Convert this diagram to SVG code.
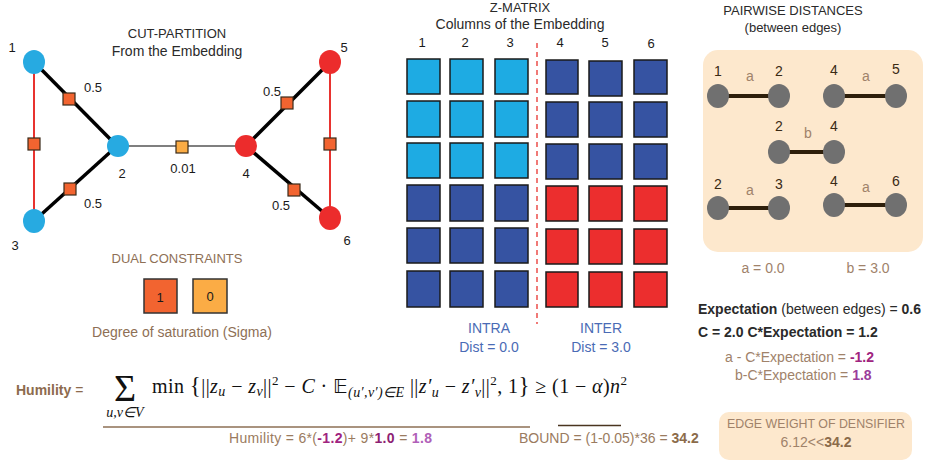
<svg xmlns="http://www.w3.org/2000/svg" width="931" height="462" viewBox="0 0 931 462">
<defs>
<style>
text{font-family:"Liberation Sans",Arial,sans-serif;}
.t{font-size:13px;fill:#2a2a2a;}
.t14{font-size:14px;fill:#2a2a2a;}
.num{font-size:13px;fill:#1a1a1a;}
.br{fill:#8e6f55;}
.bl{fill:#4a6bb5;font-size:14px;}
.lt{fill:#a0826a;font-size:14px;}
.pn{font-size:14px;fill:#3a2a14;}
.b{font-weight:bold;}
.m{font-family:"Liberation Serif","Times New Roman",serif;font-size:20px;fill:#111;}
.i{font-style:italic;}
.sq{stroke:#3a2a1a;stroke-width:1.2;}
.o1{fill:#f26430;}
.o2{fill:#fbac45;}
.blue{fill:#27aae1;}
.red{fill:#ec2c2c;}
.zc{fill:#1eabe3;stroke:#1a1a1a;stroke-width:1.5;}
.zd{fill:#3653a2;stroke:#1a1a1a;stroke-width:1.5;}
.zr{fill:#ec2e2e;stroke:#1a1a1a;stroke-width:1.5;}
.gn{fill:#707070;}
.pe{stroke:#2e1f0b;stroke-width:4;}
.peach{fill:#fde8cd;}
</style>
</defs>

<!-- CUT-PARTITION -->
<g id="cut-title">
<text class="t" x="177" y="38" text-anchor="middle">CUT-PARTITION</text>
<text class="t14" x="177" y="56" text-anchor="middle">From the Embedding</text>
</g>
<g id="connectors">
<line x1="34" y1="62" x2="117" y2="146" stroke="#000" stroke-width="3.5"/>
<line x1="34" y1="221" x2="117" y2="146" stroke="#000" stroke-width="3.5"/>
<line x1="34" y1="62" x2="34" y2="221" stroke="#e8332f" stroke-width="2"/>
<line x1="117" y1="146" x2="246" y2="146" stroke="#000" stroke-width="1.2"/>
<line x1="246" y1="146" x2="330" y2="62" stroke="#000" stroke-width="3.5"/>
<line x1="246" y1="146" x2="330" y2="218" stroke="#000" stroke-width="3.5"/>
<line x1="330" y1="62" x2="330" y2="218" stroke="#e8332f" stroke-width="2"/>
</g>
<g id="constraints">
<rect class="sq o1" x="63" y="93" width="12" height="12"/>
<rect class="sq o1" x="64" y="183" width="12" height="12"/>
<rect class="sq o1" x="28" y="138" width="12" height="12"/>
<rect class="sq o2" x="176" y="141" width="12" height="12"/>
<rect class="sq o1" x="281" y="97" width="12" height="12"/>
<rect class="sq o1" x="288" y="184" width="12" height="12"/>
<rect class="sq o1" x="324" y="138" width="12" height="12"/>
</g>
<g id="node1"><ellipse class="blue" cx="34" cy="62" rx="11" ry="12"/><text class="num" x="12" y="52" text-anchor="middle">1</text></g>
<g id="node2"><ellipse class="blue" cx="118" cy="146" rx="11" ry="11"/><text class="num" x="122" y="178" text-anchor="middle">2</text></g>
<g id="node3"><ellipse class="blue" cx="34" cy="221" rx="11" ry="12"/><text class="num" x="15" y="250" text-anchor="middle">3</text></g>
<g id="node4"><ellipse class="red" cx="246" cy="146" rx="11" ry="11"/><text class="num" x="246" y="178" text-anchor="middle">4</text></g>
<g id="node5"><ellipse class="red" cx="330" cy="62" rx="11" ry="12"/><text class="num" x="344" y="52" text-anchor="middle">5</text></g>
<g id="node6"><ellipse class="red" cx="330" cy="218" rx="11" ry="12"/><text class="num" x="347" y="245" text-anchor="middle">6</text></g>
<g id="weights">
<text class="num" x="93" y="92" text-anchor="middle">0.5</text>
<text class="num" x="93" y="208" text-anchor="middle">0.5</text>
<text class="num" x="183" y="173" text-anchor="middle">0.01</text>
<text class="num" x="272" y="96" text-anchor="middle">0.5</text>
<text class="num" x="281" y="210" text-anchor="middle">0.5</text>
</g>

<!-- Dual constraints -->
<g id="dual">
<text class="t br" x="177" y="263" text-anchor="middle">DUAL CONSTRAINTS</text>
<rect class="o1" x="144" y="279" width="33" height="34" stroke="#333" stroke-width="1.5"/>
<rect class="o2" x="193" y="279" width="34" height="34" stroke="#333" stroke-width="1.5"/>
<text class="num" x="160" y="302" text-anchor="middle">1</text>
<text class="num" x="210" y="301" text-anchor="middle">0</text>
<text class="t14 br" x="182" y="337" text-anchor="middle">Degree of saturation (Sigma)</text>
</g>

<!-- Z-Matrix -->
<g id="zmatrix">
<text class="t" x="520" y="12" text-anchor="middle">Z-MATRIX</text>
<text class="t14" x="520" y="29" text-anchor="middle">Columns of the Embedding</text>
<g class="num" text-anchor="middle">
<text x="422" y="47">1</text><text x="465" y="47">2</text><text x="510" y="47">3</text>
<text x="560" y="47">4</text><text x="605" y="47">5</text><text x="651" y="48">6</text>
</g>
<g>
<rect class="zc" x="407" y="59" width="33" height="35"/><rect class="zc" x="450" y="59" width="33" height="35"/><rect class="zc" x="495" y="59" width="33" height="35"/>
<rect class="zc" x="407" y="101" width="33" height="36"/><rect class="zc" x="450" y="101" width="33" height="36"/><rect class="zc" x="495" y="101" width="33" height="36"/>
<rect class="zc" x="407" y="143" width="33" height="35"/><rect class="zc" x="450" y="143" width="33" height="35"/><rect class="zc" x="495" y="143" width="33" height="35"/>
<rect class="zd" x="407" y="185" width="33" height="36"/><rect class="zd" x="450" y="185" width="33" height="36"/><rect class="zd" x="495" y="185" width="33" height="36"/>
<rect class="zd" x="407" y="228" width="33" height="35"/><rect class="zd" x="450" y="228" width="33" height="35"/><rect class="zd" x="495" y="228" width="33" height="35"/>
<rect class="zd" x="407" y="271" width="33" height="36"/><rect class="zd" x="450" y="271" width="33" height="36"/><rect class="zd" x="495" y="271" width="33" height="36"/>
<rect class="zd" x="546" y="60" width="32" height="34"/><rect class="zd" x="589" y="61" width="33" height="35"/><rect class="zd" x="634" y="60" width="33" height="34"/>
<rect class="zd" x="546" y="102" width="32" height="35"/><rect class="zd" x="589" y="102" width="33" height="35"/><rect class="zd" x="634" y="102" width="33" height="35"/>
<rect class="zd" x="546" y="144" width="32" height="35"/><rect class="zd" x="589" y="144" width="33" height="35"/><rect class="zd" x="634" y="144" width="33" height="35"/>
<rect class="zr" x="546" y="186" width="32" height="35"/><rect class="zr" x="589" y="186" width="33" height="35"/><rect class="zr" x="634" y="186" width="33" height="35"/>
<rect class="zr" x="546" y="229" width="32" height="35"/><rect class="zr" x="589" y="229" width="33" height="35"/><rect class="zr" x="634" y="229" width="33" height="35"/>
<rect class="zr" x="546" y="272" width="32" height="35"/><rect class="zr" x="589" y="272" width="33" height="35"/><rect class="zr" x="634" y="272" width="33" height="35"/>
</g>
<line x1="537" y1="43" x2="537" y2="324" stroke="#e8332f" stroke-width="1.3" stroke-dasharray="5,4"/>
<text class="bl" x="489" y="333" text-anchor="middle">INTRA</text>
<text class="bl" x="489" y="352" text-anchor="middle">Dist = 0.0</text>
<text class="bl" x="601" y="333" text-anchor="middle">INTER</text>
<text class="bl" x="601" y="352" text-anchor="middle">Dist = 3.0</text>
</g>

<!-- Pairwise distances -->
<g id="pairwise">
<text class="t" x="793" y="15" text-anchor="middle">PAIRWISE DISTANCES</text>
<text class="t" x="793" y="32" text-anchor="middle">(between edges)</text>
<rect class="peach" x="703" y="50" width="220" height="202" rx="15"/>
<line class="pe" x1="718" y1="96" x2="779" y2="96"/>
<line class="pe" x1="834" y1="96" x2="896" y2="96"/>
<line class="pe" x1="779" y1="152" x2="834" y2="152"/>
<line class="pe" x1="718" y1="208" x2="779" y2="208"/>
<line class="pe" x1="834" y1="205" x2="896" y2="205"/>
<ellipse class="gn" cx="718" cy="96" rx="11" ry="12"/><ellipse class="gn" cx="779" cy="96" rx="11" ry="12"/>
<ellipse class="gn" cx="834" cy="96" rx="11" ry="12"/><ellipse class="gn" cx="896" cy="96" rx="11" ry="12"/>
<ellipse class="gn" cx="779" cy="152" rx="11" ry="12"/><ellipse class="gn" cx="834" cy="152" rx="11" ry="12"/>
<ellipse class="gn" cx="718" cy="208" rx="11" ry="12"/><ellipse class="gn" cx="779" cy="208" rx="11" ry="12"/>
<ellipse class="gn" cx="834" cy="205" rx="11" ry="12"/><ellipse class="gn" cx="896" cy="205" rx="11" ry="12"/>
<g text-anchor="middle">
<text class="pn" x="718" y="76">1</text><text class="lt" x="750" y="81">a</text><text class="pn" x="779" y="76">2</text>
<text class="pn" x="834" y="75">4</text><text class="lt" x="866" y="81">a</text><text class="pn" x="896" y="74">5</text>
<text class="pn" x="779" y="131">2</text><text class="lt" x="808" y="138">b</text><text class="pn" x="834" y="131">4</text>
<text class="pn" x="718" y="189">2</text><text class="lt" x="750" y="195">a</text><text class="pn" x="779" y="189">3</text>
<text class="pn" x="834" y="186">4</text><text class="lt" x="866" y="192">a</text><text class="pn" x="896" y="186">6</text>
<text class="lt" x="763" y="273">a = 0.0</text>
<text class="lt" x="868" y="273">b = 3.0</text>
</g>
</g>

<!-- Expectation -->
<g id="expectation">
<text class="t14" x="698" y="314" fill="#111"><tspan class="b">Expectation</tspan> (between edges) = <tspan class="b">0.6</tspan></text>
<text class="t14 b" x="698" y="337" fill="#111">C = 2.0  C*Expectation = 1.2</text>
<text class="lt" x="725" y="362">a  - C*Expectation = <tspan class="b" fill="#a0247f">-1.2</tspan></text>
<text class="lt" x="735" y="380">b-C*Expectation = <tspan class="b" fill="#9b3c9b">1.8</tspan></text>
</g>

<!-- Densifier -->
<g id="densifier">
<rect class="peach" x="719" y="412" width="193" height="48" rx="10"/>
<text class="lt" x="816" y="428" text-anchor="middle" style="font-size:13px" textLength="178" lengthAdjust="spacingAndGlyphs">EDGE WEIGHT OF DENSIFIER</text>
<text class="lt" x="816" y="447" text-anchor="middle">6.12&lt;&lt;<tspan class="b" fill="#8b6b4a">34.2</tspan></text>
</g>

<!-- Humility formula -->
<g id="humility">
<text x="16" y="395" font-size="14" font-weight="bold" fill="#8d6b4d">Humility <tspan font-weight="normal">=</tspan></text>
<text class="m" x="125" y="401" text-anchor="middle" style="font-size:38px">Σ</text>
<text class="m i" x="125" y="417" text-anchor="middle" style="font-size:14px">u,v∈V</text>
<text class="m" x="152" y="393" textLength="475" lengthAdjust="spacing">min <tspan font-size="23">{</tspan>||<tspan class="i">z</tspan><tspan class="i" font-size="14" dy="3">u</tspan><tspan dy="-3"> − </tspan><tspan class="i">z</tspan><tspan class="i" font-size="14" dy="3">v</tspan><tspan dy="-3">||</tspan><tspan font-size="13" dy="-8">2</tspan><tspan dy="8"> − </tspan><tspan class="i">C</tspan> · <tspan font-family="DejaVu Sans">𝔼</tspan><tspan class="i" font-size="14" dy="4">(u′,v′)∈E</tspan><tspan dy="-4"> ||</tspan><tspan class="i">z′</tspan><tspan class="i" font-size="14" dy="4">u</tspan><tspan dy="-4"> − </tspan><tspan class="i">z′</tspan><tspan class="i" font-size="14" dy="4">v</tspan><tspan dy="-4">||</tspan><tspan font-size="13" dy="-8">2</tspan><tspan dy="8">, 1</tspan><tspan font-size="23">}</tspan> ≥ (1 − <tspan class="i">α</tspan>)<tspan class="i">n</tspan><tspan font-size="13" dy="-8">2</tspan></text>
<line x1="103" y1="427" x2="530" y2="427" stroke="#8c6f55" stroke-width="1.5"/>
<line x1="558" y1="425.5" x2="621" y2="425.5" stroke="#4a3520" stroke-width="1.5"/>
<text x="229" y="443" font-size="14" fill="#9a7b60" textLength="203" lengthAdjust="spacing">Humility = 6*(<tspan font-weight="bold" fill="#a0247f">-1.2</tspan>)+ 9*<tspan font-weight="bold" fill="#8e1f73">1.0</tspan> = <tspan font-weight="bold" fill="#b060b8">1.8</tspan></text>
<text x="519" y="443" font-size="14" fill="#9a7b60">BOUND = (1-0.05)*36 = <tspan font-weight="bold" fill="#8b6b4a">34.2</tspan></text>
</g>
</svg>
